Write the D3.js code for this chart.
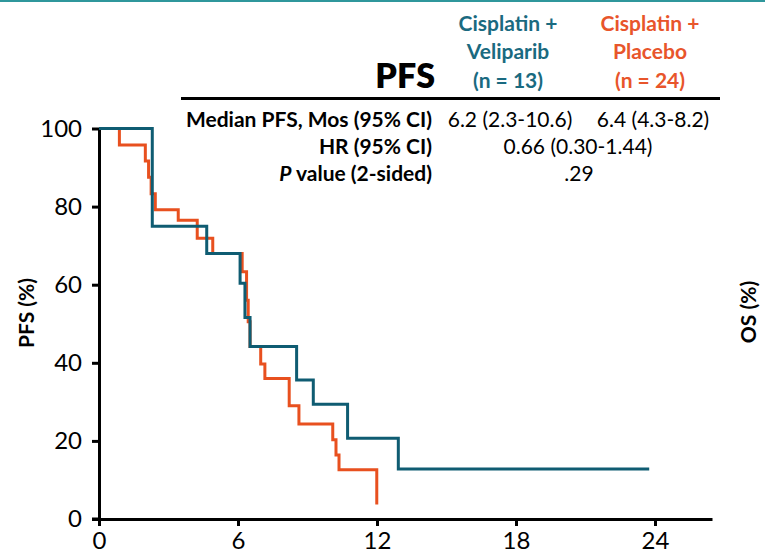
<!DOCTYPE html>
<html>
<head>
<meta charset="utf-8">
<script src="https://cdn.jsdelivr.net/npm/d3@7"></script>
<style>
  html, body { margin: 0; padding: 0; background: #fff; }
  svg { display: block; font-family: Lato, "Open Sans", sans-serif; }
</style>
</head>
<body>
<svg id="chart" width="765" height="553"></svg>
<script>
// Kaplan–Meier progression-free survival, months vs. % progression-free
const veliparibTimes  = [0, 2.30, 4.65, 6.09, 6.30, 6.52, 8.53, 9.25, 10.73, 12.92, 23.75];
const veliparibValues = [100, 75.0, 68.0, 60.4, 51.6, 44.2, 35.6, 29.4, 20.7, 12.8, 12.8];

const placeboTimes  = [0, 0.88, 2.00, 2.14, 2.25, 2.43, 3.42, 4.24, 4.91, 6.18, 6.37, 6.44, 6.52, 6.98, 7.16, 8.21, 8.63, 10.09, 10.23, 10.36, 11.99];
const placeboValues = [100, 95.8, 91.7, 87.5, 83.3, 79.2, 76.5, 71.9, 68.0, 63.3, 56.0, 50.5, 44.2, 39.7, 36.0, 29.0, 24.3, 20.3, 16.4, 12.6, 3.7];

const xTicks = [0, 6, 12, 18, 24];
const yTicks = [0, 20, 40, 60, 80, 100];

// Summary table
const armHeaders = [
  ["Cisplatin +", "Veliparib", "(n = 13)"],
  ["Cisplatin +", "Placebo", "(n = 24)"]
];
const rowLabels = ["Median PFS, Mos (95% CI)", "HR (95% CI)", "value (2-sided)"];
const medianValues = ["6.2 (2.3-10.6)", "6.4 (4.3-8.2)"];
const hrValue = "0.66 (0.30-1.44)";
const pValue = ".29";

const TEAL = "#0f5c72";
const TEAL_TEXT = "#1a6a80";
const ORANGE = "#e8501f";
const ORANGE_TEXT = "#e8552b";

const svg = d3.select("#chart");

// thin accent rule across the top
svg.append("rect").attr("x", 0).attr("y", 0).attr("width", 765).attr("height", 2)
  .attr("fill", "#2f979c");

const x = d3.scaleLinear().domain([0, 26.46]).range([99, 712]);
const y = d3.scaleLinear().domain([0, 100]).range([519, 128.5]);

// axes
const xAxis = d3.axisBottom(x).tickValues(xTicks).tickSize(7).tickSizeOuter(0);
const yAxis = d3.axisLeft(y).tickValues(yTicks).tickSize(7).tickPadding(10).tickSizeOuter(0);

const gx = svg.append("g").attr("transform", `translate(0,${y(0)})`).call(xAxis);
const gy = svg.append("g").attr("transform", `translate(${x(0)},0)`).call(yAxis);

[gx, gy].forEach(g => {
  g.select(".domain").attr("stroke", "#000").attr("stroke-width", 3);
  g.selectAll(".tick line").attr("stroke", "#000").attr("stroke-width", 3);
  g.selectAll(".tick text").attr("fill", "#000").style("font-size", "24px")
    .style("font-family", "Lato, sans-serif");
});
gx.selectAll(".tick text").attr("y", 30).attr("dy", 0);
// extend x axis line to meet the y-axis tick at 0
svg.append("line").attr("x1", x(0) - 7).attr("x2", x(0)).attr("y1", y(0)).attr("y2", y(0))
  .attr("stroke", "#000").attr("stroke-width", 3);

// axis titles
svg.append("text")
  .attr("transform", `translate(25,${313}) rotate(-90)`)
  .attr("text-anchor", "middle").attr("dominant-baseline", "central")
  .style("font-size", "21px").style("font-weight", 700).text("PFS (%)");
svg.append("text")
  .attr("transform", `translate(747,${312}) rotate(-90)`)
  .attr("text-anchor", "middle").attr("dominant-baseline", "central")
  .style("font-size", "21px").style("font-weight", 700).text("OS (%)");

// survival curves
const line = d3.line().x(d => x(d[0])).y(d => y(d[1])).curve(d3.curveStepAfter);
const placebo = d3.zip(placeboTimes, placeboValues);
const veliparib = d3.zip(veliparibTimes, veliparibValues);

svg.append("path").datum(placebo).attr("d", line)
  .attr("fill", "none").attr("stroke", ORANGE).attr("stroke-width", 3);
svg.append("path").datum(veliparib).attr("d", line)
  .attr("fill", "none").attr("stroke", TEAL).attr("stroke-width", 3);

// table header
svg.append("text").attr("x", 435).attr("y", 88).attr("text-anchor", "end")
  .style("font-size", "34px").style("font-weight", 800).text("PFS");

const colX = [508, 650];
const colColor = [TEAL_TEXT, ORANGE_TEXT];
const headerBaselines = [31, 59, 88];
armHeaders.forEach((lines, i) => {
  lines.forEach((t, j) => {
    svg.append("text").attr("x", colX[i]).attr("y", headerBaselines[j])
      .attr("text-anchor", "middle").attr("fill", colColor[i])
      .style("font-size", "21px").style("font-weight", 700).text(t);
  });
});

svg.append("line").attr("x1", 181).attr("x2", 720).attr("y1", 98.5).attr("y2", 98.5)
  .attr("stroke", "#000").attr("stroke-width", 3);

// table rows
const rowBaselines = [127, 154, 181];
rowLabels.forEach((t, i) => {
  const txt = svg.append("text").attr("x", 432).attr("y", rowBaselines[i])
    .attr("text-anchor", "end").style("font-size", "21px").style("font-weight", 700);
  if (i === 2) {
    txt.append("tspan").style("font-style", "italic").text("P");
    txt.append("tspan").text(" " + t);
  } else {
    txt.text(t);
  }
});

const valStyle = sel => sel.attr("text-anchor", "middle").style("font-size", "21px").style("font-weight", 400);
svg.append("text").attr("x", 510).attr("y", rowBaselines[0]).call(valStyle).text(medianValues[0]);
svg.append("text").attr("x", 653).attr("y", rowBaselines[0]).call(valStyle).text(medianValues[1]);
svg.append("text").attr("x", 578).attr("y", rowBaselines[1]).call(valStyle).text(hrValue);
svg.append("text").attr("x", 579).attr("y", rowBaselines[2]).call(valStyle).text(pValue);
</script>
</body>
</html>
